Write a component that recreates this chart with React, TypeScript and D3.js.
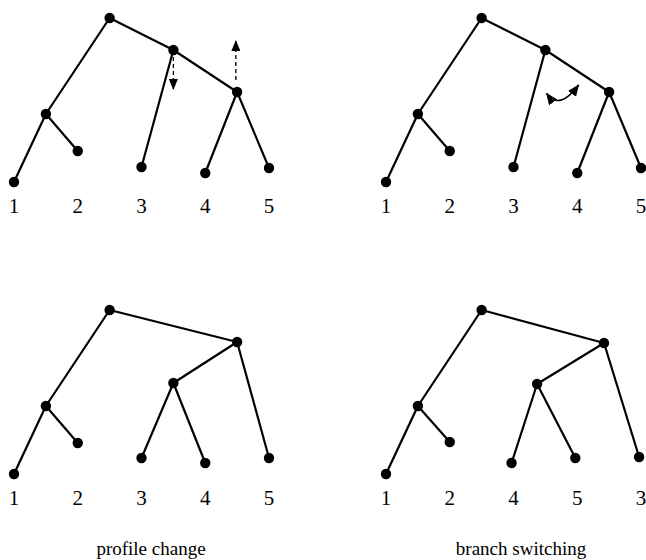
import React from "react";
import * as d3 from "d3";

// Leaf positions (slot index) and node heights (pixel depth within a panel)
type Node = { id: string; pos: number; h: number; parent?: string; label?: string };

const treeOriginal: Node[] = [
  { id: "root", pos: 2.5, h: 18 },
  { id: "A", pos: 1.5, h: 114, parent: "root" },
  { id: "L1", pos: 1, h: 182, parent: "A", label: "1" },
  { id: "L2", pos: 2, h: 151, parent: "A", label: "2" },
  { id: "B", pos: 3.5, h: 50, parent: "root" },
  { id: "L3", pos: 3, h: 167, parent: "B", label: "3" },
  { id: "C", pos: 4.5, h: 92, parent: "B" },
  { id: "L4", pos: 4, h: 173, parent: "C", label: "4" },
  { id: "L5", pos: 5, h: 168, parent: "C", label: "5" },
];

const treeProfile: Node[] = [
  { id: "root", pos: 2.5, h: 18 },
  { id: "A", pos: 1.5, h: 114, parent: "root" },
  { id: "L1", pos: 1, h: 182, parent: "A", label: "1" },
  { id: "L2", pos: 2, h: 151, parent: "A", label: "2" },
  { id: "C", pos: 4.5, h: 50, parent: "root" },
  { id: "D", pos: 3.5, h: 91, parent: "C" },
  { id: "L3", pos: 3, h: 166, parent: "D", label: "3" },
  { id: "L4", pos: 4, h: 171, parent: "D", label: "4" },
  { id: "L5", pos: 5, h: 166, parent: "C", label: "5" },
];

const treeSwitch: Node[] = [
  { id: "root", pos: 2.5, h: 18 },
  { id: "A", pos: 1.5, h: 114, parent: "root" },
  { id: "L1", pos: 1, h: 182, parent: "A", label: "1" },
  { id: "L2", pos: 2, h: 150, parent: "A", label: "2" },
  { id: "C", pos: 4.42, h: 51, parent: "root" },
  { id: "D", pos: 3.37, h: 92, parent: "C" },
  { id: "L4", pos: 2.97, h: 171, parent: "D", label: "4" },
  { id: "L5", pos: 3.97, h: 166, parent: "D", label: "5" },
  { id: "L3", pos: 4.97, h: 165, parent: "C", label: "3" },
];

const panelOffsetsX = [0, 372];
const panelOffsetsY = [0, 292];
const captions = ["profile change", "branch switching"];
const captionX = [151, 521];

// profile change arrows (top-left): [pos, fromH, toH]
const profileArrows: [number, number, number][] = [
  [3.5, 57, 89],
  [4.48, 80, 41],
];
// branch switching curve (top-right): start, control, end in slot/height units
const switchCurve: [number, number][] = [
  [3.52, 93.5],
  [3.72, 111],
  [4.02, 85],
];

const W = 646;
const H = 560;

export default function App() {
  const x = d3.scaleLinear().domain([1, 5]).range([14, 269]);
  const y = d3.scaleLinear().domain([0, 200]).range([0, 200]);

  const panels = [
    { tree: treeOriginal, px: 0, py: 0 },
    { tree: treeOriginal, px: 1, py: 0 },
    { tree: treeProfile, px: 0, py: 1 },
    { tree: treeSwitch, px: 1, py: 1 },
  ];

  const cp = d3.path();
  cp.moveTo(x(switchCurve[0][0]), y(switchCurve[0][1]));
  cp.quadraticCurveTo(
    x(switchCurve[1][0]),
    y(switchCurve[1][1]),
    x(switchCurve[2][0]),
    y(switchCurve[2][1])
  );

  return (
    <svg
      width={W}
      height={H}
      style={{ position: "absolute", left: 0, top: 0, background: "#fff" }}
      fontFamily="'Liberation Serif', 'Times New Roman', serif"
    >
      <defs>
        <marker
          id="ahd"
          viewBox="0 0 12 10"
          refX="11"
          refY="5"
          markerWidth="12"
          markerHeight="9"
          markerUnits="userSpaceOnUse"
          orient="auto"
        >
          <path d="M0,0 L12,5 L0,10 z" fill="#000" />
        </marker>
        <marker
          id="ahc"
          viewBox="0 0 12 10"
          refX="11"
          refY="5"
          markerWidth="12"
          markerHeight="10"
          markerUnits="userSpaceOnUse"
          orient="auto-start-reverse"
        >
          <path d="M0,0 L12,5 L0,10 z" fill="#000" />
        </marker>
      </defs>
      {panels.map((p, i) => {
        const byId = new Map(p.tree.map((n) => [n.id, n]));
        const ox = panelOffsetsX[p.px];
        const oy = panelOffsetsY[p.py];
        return (
          <g key={i} transform={`translate(${ox},${oy})`}>
            {p.tree
              .filter((n) => n.parent)
              .map((n) => {
                const par = byId.get(n.parent!)!;
                return (
                  <line
                    key={n.id}
                    x1={x(par.pos)}
                    y1={y(par.h)}
                    x2={x(n.pos)}
                    y2={y(n.h)}
                    stroke="#000"
                    strokeWidth={2.2}
                  />
                );
              })}
            {p.tree.map((n) => (
              <circle key={n.id} cx={x(n.pos)} cy={y(n.h)} r={5.2} fill="#000" />
            ))}
            {p.tree
              .filter((n) => n.label)
              .map((n) => (
                <text
                  key={n.id}
                  x={x(Math.round(n.pos))}
                  y={213}
                  textAnchor="middle"
                  fontSize={21}
                  fill="#000"
                >
                  {n.label}
                </text>
              ))}
          </g>
        );
      })}
      {/* profile change arrows */}
      {profileArrows.map((a, i) => (
        <line
          key={i}
          x1={x(a[0])}
          y1={y(a[1])}
          x2={x(a[0])}
          y2={y(a[2])}
          stroke="#000"
          strokeWidth={1.3}
          strokeDasharray="4,3"
          markerEnd="url(#ahd)"
        />
      ))}
      {/* branch switching arrow */}
      <g transform={`translate(${panelOffsetsX[1]},0)`}>
        <path
          d={cp.toString()}
          fill="none"
          stroke="#000"
          strokeWidth={1.6}
          markerStart="url(#ahc)"
          markerEnd="url(#ahc)"
        />
      </g>
      {captions.map((c, i) => (
        <text key={c} x={captionX[i]} y={555} textAnchor="middle" fontSize={19} fill="#000">
          {c}
        </text>
      ))}
    </svg>
  );
}
